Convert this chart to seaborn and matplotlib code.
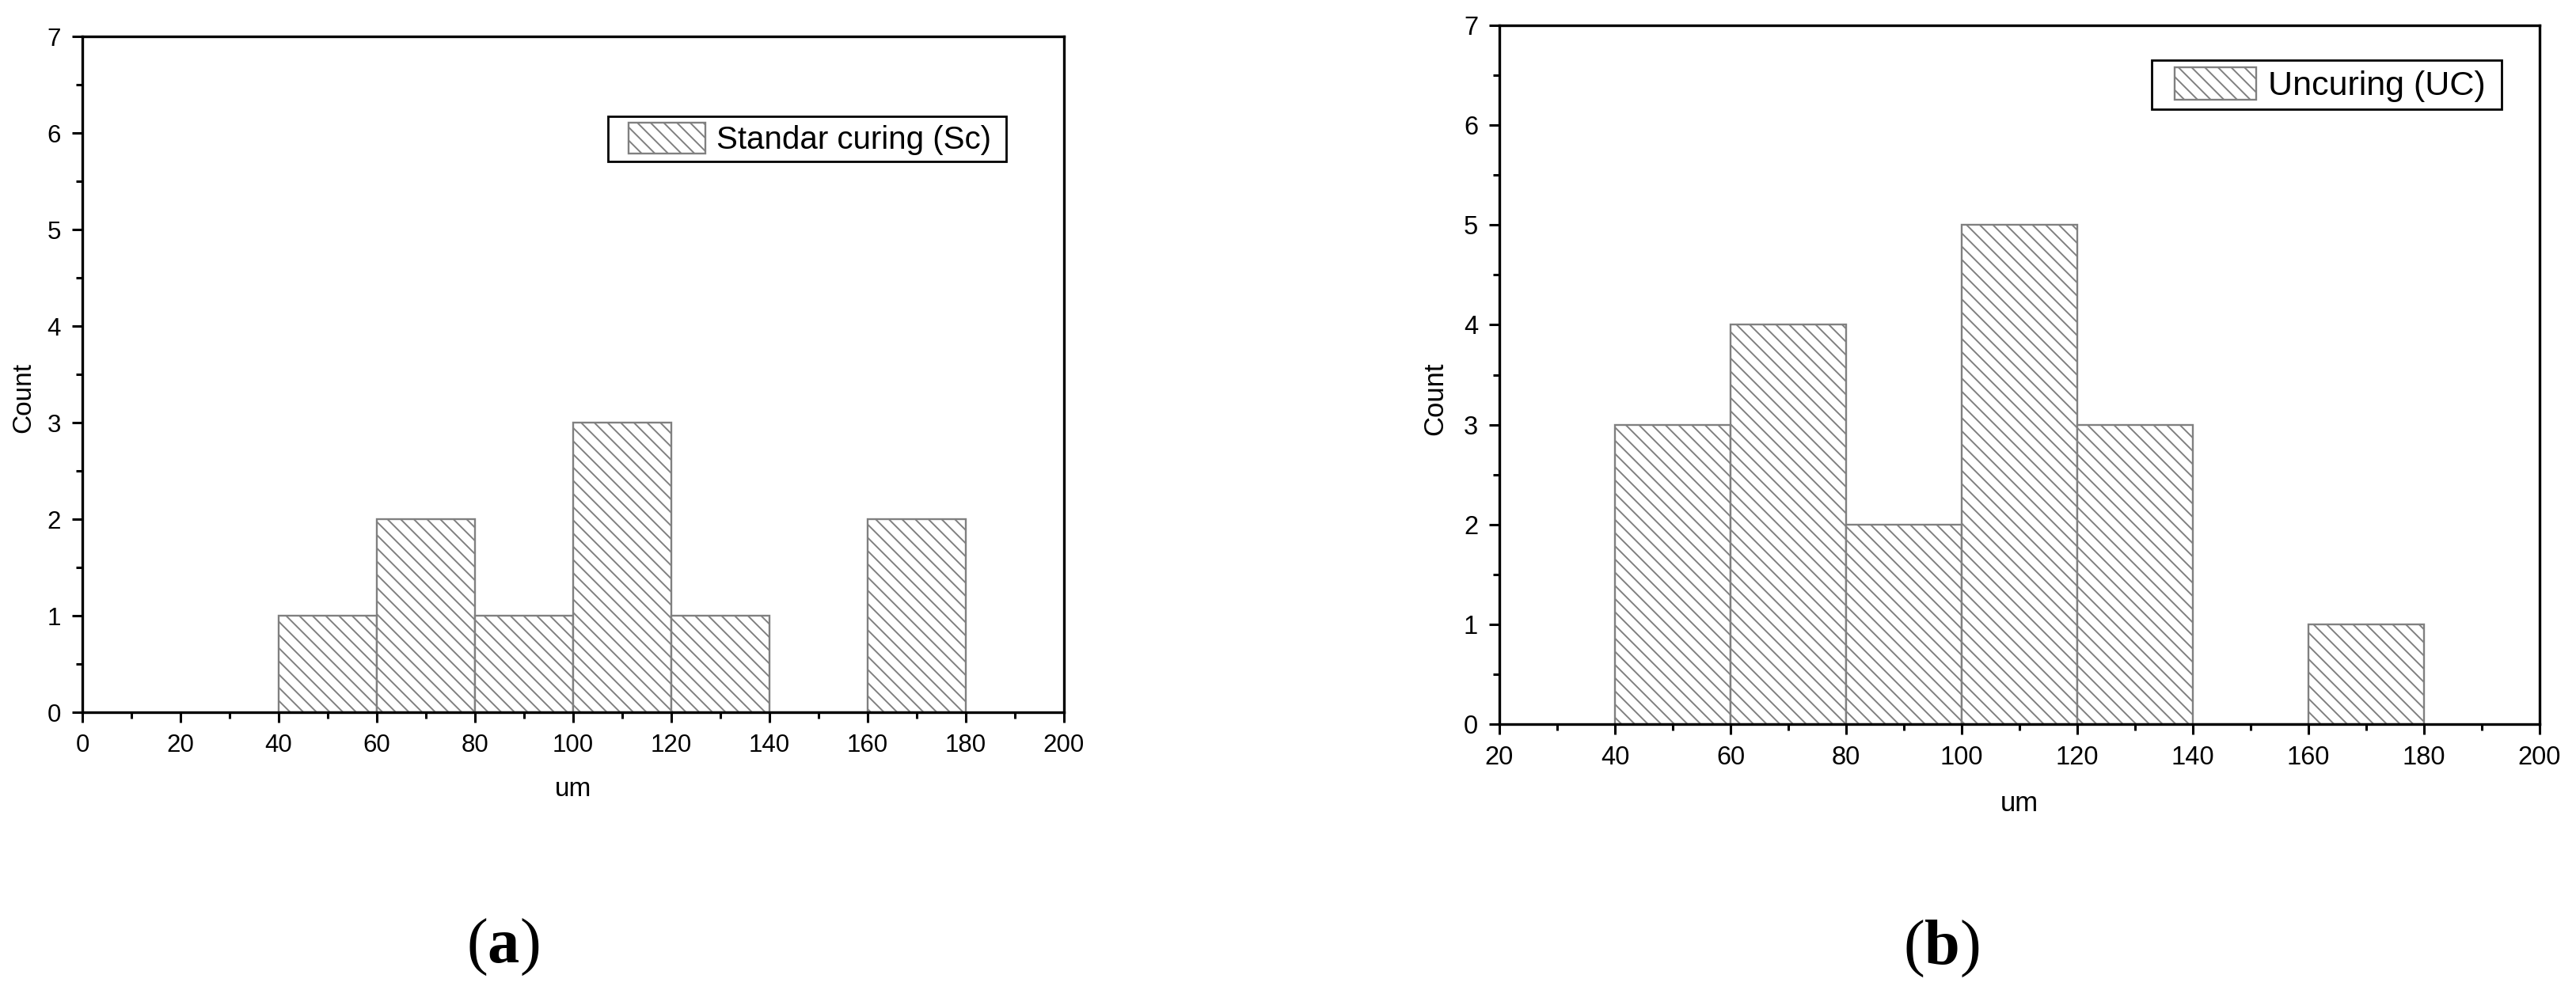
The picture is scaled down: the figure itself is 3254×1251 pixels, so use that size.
import numpy as np
import pandas as pd
import matplotlib
matplotlib.use("Agg")
import matplotlib.pyplot as plt
from matplotlib.patches import Rectangle
from matplotlib.legend_handler import HandlerPatch
from matplotlib.ticker import AutoMinorLocator
import seaborn as sns

# ---------------- data ----------------
bin_edges = [40, 60, 80, 100, 120, 140, 160, 180]
counts_sc = [1, 2, 1, 3, 1, 0, 2]   # Standar curing (Sc)
counts_uc = [3, 4, 2, 5, 3, 0, 1]   # Uncuring (UC)
label_sc = "Standar curing (Sc)"
label_uc = "Uncuring (UC)"
xlabel = "um"
ylabel = "Count"
panel_labels = ["a", "b"]
xticks_a = list(range(0, 201, 20))
xticks_b = list(range(20, 201, 20))
yticks = list(range(0, 8))

# ---------------- style ----------------
plt.rcParams["font.family"] = ["Liberation Sans", "DejaVu Sans"]
plt.rcParams["hatch.linewidth"] = 1.4
plt.rcParams["hatch.color"] = "#808080"
plt.rcParams["mathtext.fontset"] = "custom"
plt.rcParams["mathtext.rm"] = "Liberation Serif"
plt.rcParams["mathtext.bf"] = "Liberation Serif:bold"

W, H, DPI = 3255, 1251, 100
fig = plt.figure(figsize=(W / DPI, H / DPI), dpi=DPI)

def frac_axes(x0, y0, x1, y1):
    return fig.add_axes([x0 / W, 1 - y1 / H, (x1 - x0) / W, (y1 - y0) / H])

ax_a = frac_axes(104, 46, 1344, 900)
ax_b = frac_axes(1894, 32, 3208, 915)

EDGE = "#808080"
HATCH = "\\\\"

class ShiftedHandler(HandlerPatch):
    def __init__(self, shift_frac=0.16, **kw):
        super().__init__(**kw)
        self.shift_frac = shift_frac

    def create_artists(self, legend, orig_handle, xdescent, ydescent,
                       width, height, fontsize, trans):
        s = width * self.shift_frac
        p = Rectangle((-xdescent + s, -ydescent), width - s, height)
        self.update_prop(p, orig_handle, legend)
        p.set_transform(trans)
        return [p]

def draw_panel(ax, counts, label, xticks, xlim, legend_anchor, ylab_coords,
               tick_fs, leg_fs, lab_fs):
    centers = [(a + b) / 2 for a, b in zip(bin_edges[:-1], bin_edges[1:])]
    df = pd.DataFrame({"x": centers, "w": counts})
    sns.histplot(data=df, x="x", weights="w", bins=bin_edges, ax=ax,
                 color="white", edgecolor=EDGE, linewidth=1.7, alpha=1,
                 fill=True)
    for p in ax.patches:
        p.set_hatch(HATCH)
        p.set_edgecolor(EDGE)
        p.set_facecolor("white")

    ax.set_xlim(*xlim)
    ax.set_ylim(0, 7)
    ax.set_xticks(xticks)
    ax.set_yticks(yticks)
    ax.xaxis.set_minor_locator(AutoMinorLocator(2))
    ax.yaxis.set_minor_locator(AutoMinorLocator(2))
    ax.tick_params(axis="both", which="major", direction="out", length=9.4,
                   width=2.2, labelsize=tick_fs, pad=10, colors="black",
                   top=False, right=False)
    ax.tick_params(axis="both", which="minor", direction="out", length=5.5,
                   width=2.2, top=False, right=False)
    for sp in ax.spines.values():
        sp.set_linewidth(2.4)
        sp.set_color("black")
        sp.set_visible(True)

    ax.set_xlabel(xlabel, fontsize=lab_fs)
    ax.set_ylabel(ylabel, fontsize=lab_fs)
    ax.xaxis.label.set_va("center")
    ax.yaxis.label.set_va("center")
    ax.xaxis.set_label_coords(0.5, -0.1136)
    ax.yaxis.set_label_coords(*ylab_coords)

    proxy = Rectangle((0, 0), 1, 1, facecolor="white", edgecolor=EDGE,
                      hatch=HATCH, linewidth=1.7)
    leg = ax.legend([proxy], [label + " "], loc="upper right",
                    bbox_to_anchor=legend_anchor, borderaxespad=0,
                    fontsize=leg_fs, handlelength=2.85, handleheight=1.1,
                    handletextpad=0.35, borderpad=0.2, fancybox=False,
                    framealpha=1, edgecolor="black",
                    handler_map={Rectangle: ShiftedHandler(shift_frac=0.16)})
    leg.get_frame().set_linewidth(2.0)

draw_panel(ax_a, counts_sc, label_sc, xticks_a, (0, 200),
           ((1271 - 104) / 1240, (900 - 147) / 854), (-0.0597, 0.466),
           22.5, 29, 24)
draw_panel(ax_b, counts_uc, label_uc, xticks_b, (20, 200),
           ((3160 - 1894) / 1314, (915 - 76) / 883), (-0.0616, 0.466),
           23.5, 31, 25)

fig.text(635 / W, 1 - 1197 / H, r"$\mathrm{(}\mathbf{%s}\mathrm{)}$" % panel_labels[0],
         fontsize=58, ha="center", va="center")
fig.text(2452 / W, 1 - 1199 / H, r"$\mathrm{(}\mathbf{%s}\mathrm{)}$" % panel_labels[1],
         fontsize=58, ha="center", va="center")

fig.savefig("out.png", dpi=DPI, facecolor="white")
